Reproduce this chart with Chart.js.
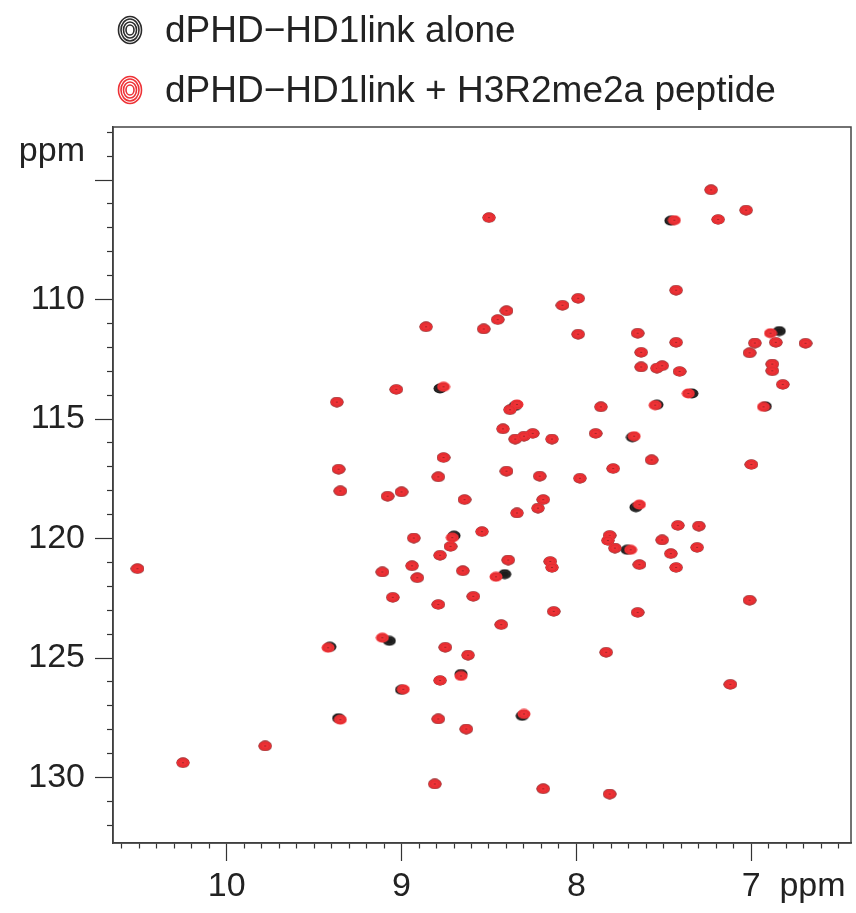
<!DOCTYPE html>
<html>
<head>
<meta charset="utf-8">
<script src="https://cdn.jsdelivr.net/npm/chart.js@4.4.0/dist/chart.umd.min.js"></script>
<style>
  html, body { margin: 0; padding: 0; background: #fff; }
  #wrap { position: relative; width: 856px; height: 913px; }
  #legend { position: absolute; left: 0; top: 0; font-family: "Liberation Sans", Arial, Helvetica, sans-serif; font-size: 37px; color: #222; }
  .legend-item { position: absolute; left: 116px; height: 42px; white-space: nowrap; display: flex; align-items: center; }
  .legend-item canvas { margin-right: 21px; }
</style>
</head>
<body>
<div id="wrap">
  <canvas id="hsqc" width="856" height="913"></canvas>
  <div id="legend"></div>
</div>
<script>
// 1H (x) and 15N (y) shifts, ppm -- peptide bound (red)
const boundH = [
  7.23, 7.03, 8.50, 7.44, 7.19, 7.43, 7.99, 8.08, 8.40, 8.45,
  8.53, 8.86, 7.99, 7.65, 7.43, 7.63, 6.98, 6.89, 6.86, 6.69,
  7.01, 6.88, 6.88, 7.63, 7.54, 7.51, 7.41, 6.82, 7.36, 9.03,
  8.76, 9.37, 8.34, 8.38, 7.86, 7.55, 6.93, 8.42, 8.35, 8.30,
  8.25, 8.14, 7.89, 7.67, 8.76, 9.36, 8.79, 7.57, 7.79, 7.00,
  8.40, 8.21, 7.98, 9.35, 9.08, 9.00, 8.64, 8.19, 8.22, 8.34,
  7.64, 8.93, 8.71, 8.72, 8.54, 8.78, 10.51, 9.11, 8.94, 8.91,
  8.65, 9.05, 8.79, 8.59, 7.42, 7.30, 7.81, 7.82, 7.78, 7.69,
  7.51, 7.46, 7.31, 8.39, 8.15, 8.14, 8.46, 7.64, 7.43, 8.13,
  7.65, 7.01, 8.43, 9.11, 9.42, 8.75, 8.62, 7.83, 8.66, 8.78,
  8.99, 7.12, 9.35, 8.79, 8.63, 8.30, 9.78, 10.25, 8.81, 8.19, 7.81
];
const boundN = [
  105.41, 106.26, 106.57, 106.68, 106.65, 109.61, 109.95, 110.24, 110.47, 110.84,
  111.23, 111.14, 111.45, 111.41, 111.79, 112.21, 111.82, 111.41, 111.79, 111.83,
  112.23, 112.70, 112.98, 112.82, 112.87, 112.77, 113.01, 113.55, 113.93, 113.76,
  113.65, 114.29, 114.39, 114.61, 114.49, 114.42, 114.49, 115.41, 115.84, 115.72,
  115.60, 115.84, 115.60, 115.72, 116.61, 117.10, 117.42, 116.71, 117.07, 116.90,
  117.18, 117.39, 117.48, 118.01, 118.23, 118.05, 118.37, 118.37, 118.73, 118.93,
  118.58, 119.98, 119.96, 120.33, 119.71, 120.70, 121.26, 121.40, 121.14, 121.64,
  121.35, 122.46, 122.76, 122.42, 119.45, 119.48, 119.87, 120.08, 120.40, 120.47,
  120.06, 120.63, 120.37, 120.90, 120.96, 121.21, 121.60, 121.09, 121.21, 123.05,
  123.09, 122.58, 123.60, 124.15, 124.57, 124.55, 124.88, 124.76, 125.75, 125.94,
  126.31, 126.10, 127.58, 127.55, 127.97, 127.34, 128.68, 129.38, 130.27, 130.47, 130.69
];

// free protein (black)
const aloneH = [
  7.23, 7.03, 8.50, 7.46, 7.19, 7.43, 7.99, 8.08, 8.40, 8.45,
  8.53, 8.86, 7.99, 7.65, 7.43, 7.63, 6.98, 6.84, 6.86, 6.69,
  7.01, 6.88, 6.88, 7.63, 7.54, 7.51, 7.41, 6.82, 7.34, 9.03,
  8.78, 9.37, 8.35, 8.38, 7.86, 7.54, 6.92, 8.42, 8.35, 8.30,
  8.25, 8.14, 7.89, 7.68, 8.76, 9.36, 8.79, 7.57, 7.79, 7.00,
  8.40, 8.21, 7.98, 9.35, 9.08, 9.00, 8.64, 8.19, 8.22, 8.34,
  7.66, 8.93, 8.70, 8.72, 8.54, 8.78, 10.51, 9.11, 8.94, 8.91,
  8.65, 9.05, 8.79, 8.59, 7.42, 7.30, 7.81, 7.82, 7.78, 7.71,
  7.51, 7.46, 7.31, 8.39, 8.15, 8.14, 8.41, 7.64, 7.43, 8.13,
  7.65, 7.01, 8.43, 9.07, 9.41, 8.75, 8.62, 7.83, 8.66, 8.78,
  9.00, 7.12, 9.36, 8.79, 8.63, 8.31, 9.78, 10.25, 8.81, 8.19, 7.81
];
const aloneN = [
  105.41, 106.26, 106.57, 106.70, 106.65, 109.61, 109.95, 110.24, 110.47, 110.84,
  111.23, 111.14, 111.45, 111.41, 111.79, 112.21, 111.82, 111.32, 111.79, 111.83,
  112.23, 112.70, 112.98, 112.82, 112.87, 112.77, 113.01, 113.55, 113.93, 113.76,
  113.72, 114.29, 114.45, 114.61, 114.49, 114.40, 114.47, 115.41, 115.84, 115.72,
  115.60, 115.84, 115.60, 115.76, 116.61, 117.10, 117.42, 116.71, 117.07, 116.90,
  117.18, 117.39, 117.48, 118.01, 118.23, 118.05, 118.37, 118.37, 118.73, 118.93,
  118.69, 119.98, 119.88, 120.33, 119.71, 120.70, 121.26, 121.40, 121.14, 121.64,
  121.35, 122.46, 122.76, 122.42, 119.45, 119.48, 119.87, 120.08, 120.40, 120.47,
  120.06, 120.63, 120.37, 120.90, 120.96, 121.21, 121.49, 121.09, 121.21, 123.05,
  123.09, 122.58, 123.60, 124.28, 124.53, 124.55, 124.88, 124.76, 125.67, 125.94,
  126.33, 126.10, 127.52, 127.55, 127.97, 127.42, 128.68, 129.38, 130.27, 130.47, 130.69
];

const seriesLabels = ['dPHD\u2212HD1link alone', 'dPHD\u2212HD1link + H3R2me2a peptide'];

// axis ticks
const xMajor = [10, 9, 8, 7];
const yLabelled = [110, 115, 120, 125, 130];
const yMajor = [105, 110, 115, 120, 125, 130];
const axisUnit = 'ppm';
const xUnitAt = 6.65;
const yUnitAt = 103.8;

const fontFamily = '"Liberation Sans", Arial, Helvetica, sans-serif';

function toPoints(xs, ys) {
    return xs.map((x, i) => ({ x: x, y: ys[i] }));
}

function isInt(v) {
    return Math.abs(v - Math.round(v)) < 1e-6;
}

// small contour-like blob used as the peak marker
function makePeak(fill, ring, dot) {
    const c = document.createElement('canvas');
    c.width = 14;
    c.height = 11;
    const g = c.getContext('2d');
    g.fillStyle = fill;
    g.beginPath();
    g.ellipse(7, 5.5, 6.5, 5, 0, 0, Math.PI * 2);
    g.fill();
    g.strokeStyle = ring;
    g.lineWidth = 0.6;
    g.beginPath();
    g.ellipse(7, 5.5, 4.3, 3.3, 0, 0, Math.PI * 2);
    g.stroke();
    if (dot) {
        g.fillStyle = dot;
        g.fillRect(6.5, 5, 1, 1);
    }
    return c;
}

function makeLegendIcon(color) {
    const c = document.createElement('canvas');
    c.width = 28;
    c.height = 32;
    const g = c.getContext('2d');
    g.strokeStyle = color;
    g.lineWidth = 1.6;
    [[11.5, 13.5], [9, 11], [6.5, 8], [4, 5]].forEach(r => {
        g.beginPath();
        g.ellipse(14, 16, r[0], r[1], 0, 0, Math.PI * 2);
        g.stroke();
    });
    return c;
}

// ticks every 0.1 ppm (1H) and 1 ppm (15N)
const xTicks = [];
for (let i = 65; i <= 106; i++) xTicks.push(i / 10);
xTicks.push(xUnitAt);
const yTicks = [];
for (let v = 103; v <= 132; v++) yTicks.push(v);
yTicks.push(yUnitAt);

const frame = {
    id: 'frame',
    afterDraw(chart) {
        const { ctx, chartArea: a } = chart;
        ctx.save();
        ctx.strokeStyle = '#444';
        ctx.lineWidth = 1.5;
        ctx.strokeRect(a.left, a.top, a.right - a.left, a.bottom - a.top);
        ctx.restore();
    }
};

const tickColor = (ctx, unitAt) => {
    if (!ctx.tick) return '#333';
    return Math.abs(ctx.tick.value - unitAt) < 1e-6 ? 'rgba(0,0,0,0)' : '#333';
};

new Chart(document.getElementById('hsqc'), {
    type: 'scatter',
    data: {
        datasets: [
            {
                label: seriesLabels[1],
                data: toPoints(boundH, boundN),
                pointStyle: makePeak('#EE3236', '#D42A2E', '#5a1a1a'),
                order: 0
            },
            {
                label: seriesLabels[0],
                data: toPoints(aloneH, aloneN),
                pointStyle: makePeak('#1c1c1c', '#3a3a3a', null),
                order: 1
            }
        ]
    },
    plugins: [frame],
    options: {
        responsive: false,
        animation: false,
        devicePixelRatio: 1,
        layout: { padding: { top: 127, right: 5, left: 0, bottom: 0 } },
        plugins: {
            legend: { display: false },
            tooltip: { enabled: false }
        },
        scales: {
            x: {
                type: 'linear',
                reverse: true,
                bounds: 'data',
                min: 6.43,
                max: 10.65,
                afterBuildTicks: (s) => { s.ticks = xTicks.map(v => ({ value: v })); },
                afterFit: (s) => { s.height = 70; },
                grid: {
                    display: true,
                    drawOnChartArea: false,
                    drawTicks: true,
                    tickLength: 18,
                    tickWidth: 1.2,
                    tickColor: (ctx) => tickColor(ctx, xUnitAt),
                    tickBorderDash: (ctx) => (ctx.tick && isInt(ctx.tick.value)) ? [] : [5, 13]
                },
                border: { display: true, color: '#333', width: 1.5 },
                ticks: {
                    autoSkip: false,
                    maxRotation: 0,
                    padding: 5,
                    color: '#222',
                    font: { family: fontFamily, size: 34 },
                    callback: (v) => {
                        if (Math.abs(v - xUnitAt) < 1e-6) return axisUnit;
                        return xMajor.some(m => Math.abs(m - v) < 1e-6) ? String(Math.round(v)) : '';
                    }
                }
            },
            y: {
                type: 'linear',
                reverse: true,
                bounds: 'data',
                min: 102.78,
                max: 132.74,
                afterBuildTicks: (s) => { s.ticks = yTicks.map(v => ({ value: v })); },
                afterFit: (s) => { s.width = 113; },
                grid: {
                    display: true,
                    drawOnChartArea: false,
                    drawTicks: true,
                    tickLength: 18,
                    tickWidth: 1.2,
                    tickColor: (ctx) => tickColor(ctx, yUnitAt),
                    tickBorderDash: (ctx) => (ctx.tick && yMajor.includes(ctx.tick.value)) ? [] : [6, 12],
                    tickBorderDashOffset: (ctx) => (ctx.tick && yMajor.includes(ctx.tick.value)) ? 0 : 6
                },
                border: { display: true, color: '#333', width: 1.5 },
                ticks: {
                    autoSkip: false,
                    padding: 10,
                    color: '#222',
                    font: { family: fontFamily, size: 34 },
                    callback: (v) => {
                        if (Math.abs(v - yUnitAt) < 1e-6) return axisUnit;
                        return yLabelled.includes(v) ? String(v) : '';
                    }
                }
            }
        }
    }
});

// legend, drawn as html like the rest of the page text
const legend = document.getElementById('legend');
const legendColors = ['#2a2a2a', '#EE3236'];
const legendTops = [9, 69];
seriesLabels.forEach((text, i) => {
    const item = document.createElement('div');
    item.className = 'legend-item';
    item.style.top = legendTops[i] + 'px';
    item.appendChild(makeLegendIcon(legendColors[i]));
    const span = document.createElement('span');
    span.textContent = text;
    item.appendChild(span);
    legend.appendChild(item);
});
</script>
</body>
</html>
